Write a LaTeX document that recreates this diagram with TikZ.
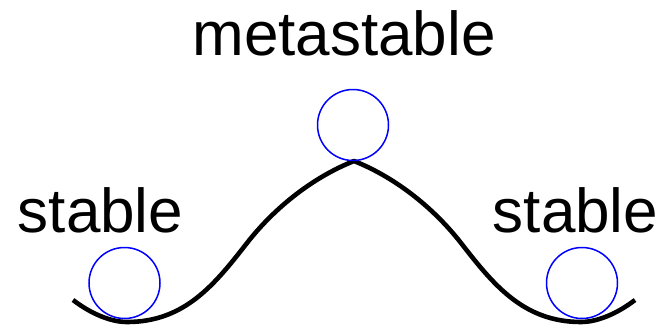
\documentclass[tikz,border=0pt]{standalone}
\usepackage{fontspec}
\setmainfont{Liberation Sans}
\usepackage{xcolor}
\usepackage{tikz}
\definecolor{cazul}{RGB}{0,0,255}
\tikzset{
  bola/.style={circle, draw=cazul, line width=1.5pt, minimum size=71pt, inner sep=0pt},
  etq/.style={anchor=base, inner sep=0pt, font=\fontsize{62}{62}\selectfont},
  curva/.style={line width=4.6pt, line join=round},
}
\begin{document}
\begin{tikzpicture}[x=1pt, y=-1pt]
  \useasboundingbox (0,0) rectangle (659,327);
  % potential curve, sharp top in the middle
  \draw[curva] (73,300) .. controls (90,313) and (110,322) .. (127,322)
    .. controls (185,322) and (215,284) .. (247,243)
    .. controls (272,211) and (309,179) .. (354,161)
    .. controls (399,179) and (436,211) .. (461,243)
    .. controls (493,284) and (523,322) .. (581,322)
    .. controls (598,322) and (618,313) .. (635,300);
  \node[bola] (bizq) at (124.5,283) {};
  \node[bola] (bmed) at (353,125) {};
  \node[bola] (bder) at (582,283) {};
  \node[etq] (meta) at (344,55) {metastable};
  \node[etq] (estizq) at (100.5,232) {stable};
  \node[etq] (estder) at (575.5,232) {stable};
\end{tikzpicture}
\end{document}
